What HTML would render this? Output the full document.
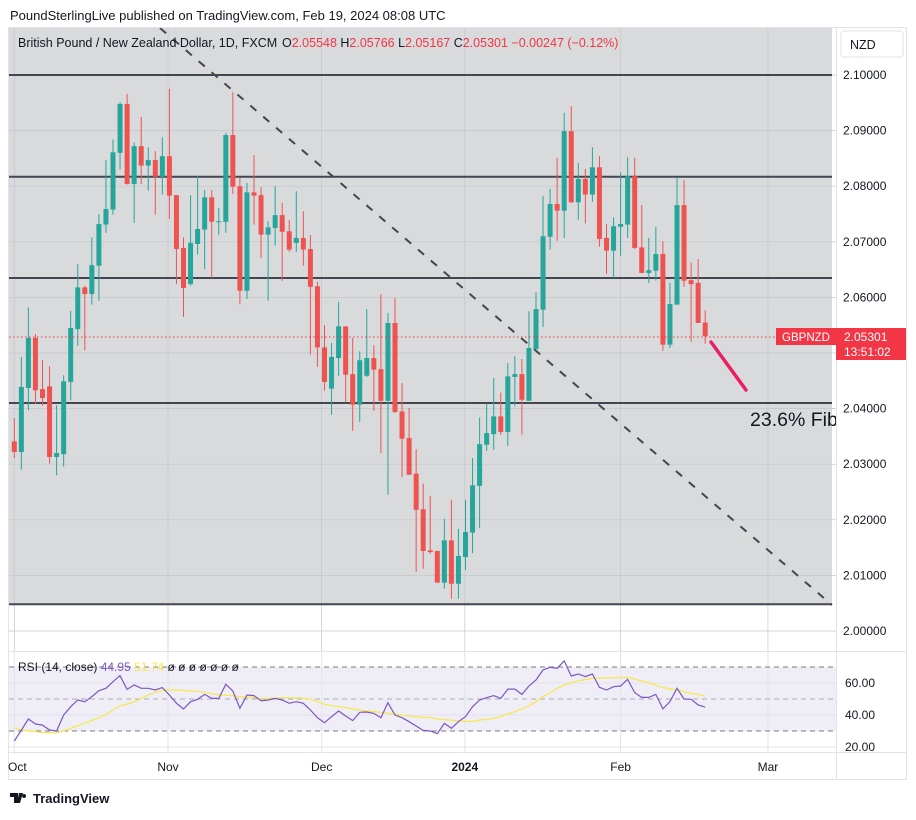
<!DOCTYPE html>
<html><head><meta charset="utf-8">
<style>
html,body{margin:0;padding:0;background:#fff;}
body{width:916px;height:815px;overflow:hidden;font-family:"Liberation Sans",sans-serif;}
svg text{font-family:"Liberation Sans",sans-serif;}
</style></head>
<body>
<svg id="chart" width="916" height="815" viewBox="0 0 916 815" xmlns="http://www.w3.org/2000/svg">
  <text x="10" y="20" font-size="13" fill="#131722">PoundSterlingLive published on TradingView.com, Feb 19, 2024 08:08 UTC</text>
  <rect x="8.5" y="27.5" width="898" height="752" fill="#fff" stroke="#e0e3eb"/>
  <defs>
    <clipPath id="mainClip"><rect x="9" y="28" width="827" height="623"/></clipPath>
    <clipPath id="rsiClip"><rect x="9" y="652" width="827" height="100"/></clipPath>
  </defs>
  <g id="mainPane" clip-path="url(#mainClip)">
    <rect x="9" y="28" width="823" height="577" fill="#d9dadc"/>
    <g id="grid"></g>
    <g id="hlines"></g>
    <line x1="160" y1="28" x2="832" y2="605" stroke="#434651" stroke-width="2" stroke-dasharray="8,9"/>
    <g id="candles"></g>
    <line x1="9" y1="337" x2="836" y2="337" stroke="#f23645" stroke-width="1" stroke-dasharray="1.5,2.5"/>
    <line x1="711" y1="342" x2="746" y2="390" stroke="#e91e63" stroke-width="3.5" stroke-linecap="round"/>
    <text x="750" y="426" font-size="19.5" fill="#131722">23.6% Fib</text>
  </g>
  <g font-size="12.5">
    <text x="18" y="47" fill="#131722">British Pound / New Zealand Dollar, 1D, FXCM</text>
    <text x="282" y="47" fill="#131722">O<tspan fill="#f23645">2.05548</tspan>  H<tspan fill="#f23645">2.05766</tspan>  L<tspan fill="#f23645">2.05167</tspan>  C<tspan fill="#f23645">2.05301</tspan>  <tspan fill="#f23645">−0.00247 (−0.12%)</tspan></text>
  </g>
  <line x1="9" y1="651.5" x2="906" y2="651.5" stroke="#e0e3eb"/>
  <g id="rsiPane" clip-path="url(#rsiClip)">
    <rect x="9" y="667" width="827" height="64" fill="#efedf6"/>
    <g id="rsiGrid"></g>
    <line x1="9" y1="667" x2="836" y2="667" stroke="#787b86" stroke-dasharray="5,4"/>
    <line x1="9" y1="699" x2="836" y2="699" stroke="#9598a1" stroke-dasharray="5,4" stroke-opacity="0.8"/>
    <line x1="9" y1="731" x2="836" y2="731" stroke="#787b86" stroke-dasharray="5,4"/>
    <path id="rsiMa" fill="none" stroke="#f7e84a" stroke-width="1.2"/>
    <path id="rsiLine" fill="none" stroke="#7e57c2" stroke-width="1.2"/>
  </g>
  <text x="18" y="671" font-size="12" fill="#131722">RSI (14, close) <tspan fill="#7e57c2">44.95</tspan> <tspan fill="#f7e84a">51.74</tspan> <tspan fill="#131722">ø ø ø ø ø ø ø</tspan></text>
  <line x1="836.5" y1="28" x2="836.5" y2="779" stroke="#e0e3eb"/>
  <line x1="9" y1="752.5" x2="906" y2="752.5" stroke="#e0e3eb"/>
  <g id="priceAxis" font-size="12" fill="#131722"></g>
  <rect x="841" y="31" width="62" height="26" rx="3" fill="#fff" stroke="#e0e3eb"/>
  <text x="850" y="49" font-size="12.5" fill="#131722">NZD</text>
  <rect x="776" y="328" width="60" height="17" fill="#f23645"/>
  <text x="806" y="341" font-size="11.5" fill="#fff" text-anchor="middle">GBPNZD</text>
  <rect x="836" y="328" width="70" height="32" fill="#f23645"/>
  <text x="844" y="341" font-size="12" fill="#fff">2.05301</text>
  <text x="844" y="356" font-size="12" fill="#fff">13:51:02</text>
  <g id="timeAxis" font-size="12" fill="#131722"></g>
  <g>
    <path d="M10 793 h8 v10 h-4 v-6 h-4z M19 793 h4 l-3 10 h-3z M24 794 a2 2 0 1 0 0.1 0z" fill="#131722"/>
    <text x="33" y="803" font-size="13" font-weight="bold" fill="#131722">TradingView</text>
  </g>
</svg>
<script>
const opens=[2.0341,2.0322,2.0437,2.0527,2.0435,2.0440,2.0313,2.0318,2.0448,2.0543,2.0618,2.0606,2.0657,2.0731,2.0758,2.0860,2.0948,2.0804,2.0872,2.0837,2.0847,2.0817,2.0854,
2.0784,2.0689,2.0624,2.0696,2.0722,2.0780,2.0736,2.0736,2.0892,2.0800,2.0612,2.0789,2.0784,2.0713,2.0725,2.0748,2.0719,2.0698,2.0707,2.0687,2.0620,2.0510,
2.0436,2.0491,2.0548,2.0462,2.0407,2.0459,2.0491,2.0471,2.0414,2.0554,2.0395,2.0347,2.0283,2.0219,2.0145,2.0144,2.0087,2.0163,2.0085,2.0133,2.0177,2.0261,2.0335,
2.0354,2.0386,2.0358,2.0457,2.0462,2.0414,2.0507,2.0578,2.0709,2.0768,2.0756,2.0899,2.0771,2.0813,2.0785,2.0834,2.0707,2.0684,2.0727,2.0731,
2.0818,2.0690,2.0644,2.0648,2.0678,2.0515,2.0587,2.0766,2.0631,2.0626,2.05548];
const highs=[2.0383,2.0493,2.0582,2.0534,2.0487,2.0476,2.0406,2.0460,2.0576,2.0660,2.0621,2.0708,2.0750,2.0847,2.0884,2.0951,2.0966,2.0879,2.0925,2.0870,2.0863,2.0888,2.0975,
2.0784,2.0708,2.0784,2.0818,2.0793,2.0793,2.0761,2.0896,2.0969,2.0815,2.0806,2.0856,2.0798,2.0737,2.0800,2.0770,2.0739,2.0791,2.0755,2.0712,2.0628,2.0550,
2.0518,2.0592,2.0548,2.0527,2.0503,2.0579,2.0514,2.0606,2.0572,2.0599,2.0446,2.0401,2.0327,2.0265,2.0243,2.0144,2.0202,2.0236,2.0184,2.0236,2.0311,2.0384,2.0409,
2.0455,2.0429,2.0482,2.0494,2.0489,2.0575,2.0609,2.0782,2.0795,2.0851,2.0932,2.0944,2.0842,2.0831,2.0870,2.0854,2.0732,2.0744,2.0825,2.0852,
2.0851,2.0766,2.0707,2.0727,2.0701,2.0626,2.0816,2.0811,2.0663,2.0669,2.05766];
const lows=[2.0311,2.0290,2.0397,2.0408,2.0405,2.0301,2.0280,2.0296,2.0415,2.0513,2.0505,2.0587,2.0594,2.0716,2.0749,2.0830,2.0803,2.0734,2.0804,2.0792,2.0749,2.0785,2.0741,
2.0624,2.0565,2.0621,2.0677,2.0651,2.0635,2.0713,2.0716,2.0786,2.0588,2.0597,2.0731,2.0671,2.0594,2.0693,2.0630,2.0682,2.0682,2.0657,2.0497,2.0475,2.0432,
2.0389,2.0459,2.0411,2.0360,2.0376,2.0457,2.0396,2.0320,2.0245,2.0392,2.0277,2.0281,2.0106,2.0112,2.0139,2.0087,2.0076,2.0058,2.0058,2.0110,2.0140,2.0185,2.0324,
2.0326,2.0353,2.0333,2.0404,2.0353,2.0414,2.0506,2.0547,2.0686,2.0702,2.0707,2.0770,2.0740,2.0733,2.0772,2.0691,2.0642,2.0635,2.0675,2.0707,
2.0687,2.0644,2.0626,2.0630,2.0504,2.0509,2.0587,2.0619,2.0520,2.0554,2.05167];
const closes=[2.0322,2.0439,2.0527,2.0433,2.0419,2.0313,2.0320,2.0449,2.0545,2.0618,2.0606,2.0658,2.0732,2.0759,2.0861,2.0948,2.0804,2.0872,2.0837,2.0847,2.0817,2.0854,2.0783,
2.0687,2.0617,2.0698,2.0723,2.0780,2.0736,2.0737,2.0892,2.0799,2.0612,2.0789,2.0783,2.0713,2.0726,2.0748,2.0718,2.0686,2.0707,2.0686,2.0619,2.0510,2.0448,
2.0493,2.0548,2.0461,2.0407,2.0487,2.0491,2.0470,2.0414,2.0554,2.0394,2.0346,2.0281,2.0218,2.0144,2.0142,2.0087,2.0163,2.0085,2.0135,2.0178,2.0262,2.0336,2.0356,
2.0386,2.0358,2.0458,2.0462,2.0416,2.0509,2.0579,2.0710,2.0768,2.0756,2.0899,2.0771,2.0813,2.0785,2.0834,2.0705,2.0684,2.0728,2.0732,2.0818,
2.0689,2.0644,2.0649,2.0678,2.0515,2.0588,2.0766,2.0630,2.0624,2.0554,2.05301];
const rsiValues=[23.7,30.6,37.5,34.4,33.7,30.6,30,40,45.2,49.4,48.3,51.5,55.2,56.7,60.8,64.6,56,58.8,56.7,56.7,
55.6,57.1,52.5,47.3,43.8,48.3,49.8,52.9,50.4,50.4,59.2,55,44.2,52.5,52.1,48.8,49.4,50.4,49.4,47.3,
48.3,47.3,43.1,38.3,35.2,39,42.5,39.4,36.5,41.7,41.9,41,38.3,47.7,40,38.3,35.8,33.1,30.4,30,
28.3,34.8,31.7,35.8,39,45.2,49.4,50.8,52.1,50.4,56.2,56.2,52.9,58.1,61.9,68.1,69.8,69.2,73.8,64.4,
65.6,64,65.6,57.3,55.6,57.7,58.1,62.3,54,51,51,52.9,43.8,48.3,56.7,50,49.8,46.3,44.95];
const rsiMaValues=[32.1,30.6,30,29.6,29.2,29,29,30,31.7,33.3,34.8,36.5,38.3,40.4,43.1,45.6,46.9,48.3,50.4,52.5,
54.2,55.4,55.6,55.6,55.4,55,54.8,54.2,53.3,52.5,52.5,52.1,51.5,51,50.8,50.4,50.4,50.4,50.8,50.8,
50.6,50.4,50,48.3,46.7,45.8,45.2,44.6,43.8,43.1,42.5,42.1,41.7,41,40.6,40,39.4,39,38.5,38.3,
37.5,37.1,36.7,36.25,36,36,36.9,37.3,37.9,39,40.6,42.1,43.8,45.6,48.3,51.5,54,56.7,58.8,60.2,
61.3,62.1,62.9,63.1,63.1,63.3,63.3,63.5,62.5,61.3,60,58.8,57.1,56.2,55.6,54.6,53.5,52.9,51.74];
const levelPrices=[2.1,2.0817,2.0635,2.0410,2.0048];
const priceTicks=[2.1,2.09,2.08,2.07,2.06,2.05,2.04,2.03,2.02,2.01,2.0];
const rsiTicks=[60,40,20];
const timeLabels=["Oct","Nov","Dec","2024","Feb","Mar"];
const timeIndex=[0,21.8,43.6,63.9,86,106.9];

const NS="http://www.w3.org/2000/svg";
const xOf=i=>14.3+7.05*i;
const yP=p=>75+(2.1-p)*5560;
const yR=v=>699-(v-50)*1.6;
function mk(tag,parent,attrs){const e=document.createElementNS(NS,tag);for(const k in attrs)e.setAttribute(k,attrs[k]);parent.appendChild(e);return e;}

const grid=document.getElementById('grid');
priceTicks.forEach(p=>{const l=mk('line',grid,{x1:9,x2:836,y1:yP(p),y2:yP(p),stroke:'#c4c6cc','stroke-width':0.7});

});
timeIndex.forEach(t=>{const l=mk('line',grid,{x1:xOf(t),x2:xOf(t),y1:28,y2:651,stroke:'#c4c6cc','stroke-width':0.7});

});
const rg=document.getElementById('rsiGrid');
[60,40,20].forEach(v=>{const l=mk('line',rg,{x1:9,x2:836,y1:yR(v),y2:yR(v),stroke:'#e3e3ea','stroke-width':1});

});
timeIndex.forEach(t=>{const l=mk('line',rg,{x1:xOf(t),x2:xOf(t),y1:652,y2:752,stroke:'#e3e3ea','stroke-width':1});

});

const hl=document.getElementById('hlines');
levelPrices.forEach(p=>{const l=mk('line',hl,{x1:9,x2:832,y1:yP(p),y2:yP(p),stroke:'#434651','stroke-width':2});

});

const cg=document.getElementById('candles');
for(let i=0;i<closes.length;i++){
  const up=closes[i]>=opens[i];const col=up?'#26a69a':'#ef5350';const x=xOf(i);
  const g=mk('g',cg,{});
  
  
  mk('line',g,{x1:x,x2:x,y1:yP(highs[i]),y2:yP(lows[i]),stroke:col,'stroke-width':1});
  const t=yP(Math.max(opens[i],closes[i])),b=yP(Math.min(opens[i],closes[i]));
  mk('rect',g,{x:x-2.5,y:t,width:5,height:Math.max(1,b-t),fill:col});
}
function path(vals){return vals.map((v,i)=>(i?'L':'M')+xOf(i).toFixed(1)+' '+yR(v).toFixed(1)).join(' ');}
document.getElementById('rsiLine').setAttribute('d',path(rsiValues));
document.getElementById('rsiMa').setAttribute('d',path(rsiMaValues));

const pa=document.getElementById('priceAxis');
priceTicks.forEach(p=>{const y=yP(p);if(y>325&&y<362)return;const t=mk('text',pa,{x:843,y:y+4});t.textContent=p.toFixed(5);

});
rsiTicks.forEach(v=>{const t=mk('text',pa,{x:845,y:yR(v)+4});t.textContent=v.toFixed(2);

});
const ta=document.getElementById('timeAxis');
timeLabels.forEach((s,k)=>{let x=xOf(timeIndex[k]);const t=mk('text',ta,{x:k===0?8:x,y:771,'text-anchor':k===0?'start':'middle'});
if(s==="2024")t.setAttribute('font-weight','bold');t.textContent=s;

});
</script>
</body></html>
